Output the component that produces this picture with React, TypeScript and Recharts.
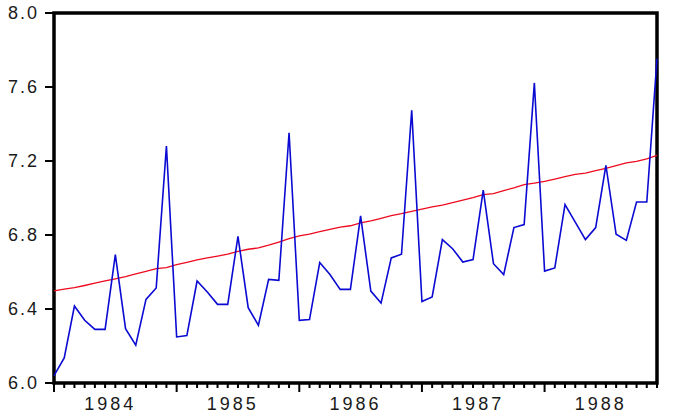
import React from 'react';
import { LineChart, Line, XAxis, YAxis, ReferenceArea } from 'recharts';

// monthly observations, 1984M01 - 1988M12
const years = ['1984', '1985', '1986', '1987', '1988'];

const actual = [
  6.04, 6.135, 6.416, 6.339, 6.29, 6.29, 6.694, 6.294, 6.204, 6.452, 6.514, 7.281,
  6.249, 6.256, 6.551, 6.492, 6.425, 6.425, 6.793, 6.407, 6.312, 6.56, 6.555, 7.353,
  6.339, 6.343, 6.651, 6.586, 6.506, 6.506, 6.903, 6.497, 6.432, 6.676, 6.696, 7.474,
  6.44, 6.465, 6.775, 6.726, 6.654, 6.667, 7.042, 6.645, 6.586, 6.84, 6.856, 7.622,
  6.605, 6.622, 6.964, 6.87, 6.775, 6.84, 7.177, 6.804, 6.771, 6.978, 6.978, 7.753,
];

const trend = [
  6.498, 6.507, 6.515, 6.527, 6.54, 6.552, 6.563, 6.575, 6.59, 6.604, 6.618, 6.624,
  6.64, 6.652, 6.665, 6.676, 6.686, 6.696, 6.712, 6.723, 6.73, 6.745, 6.762, 6.78,
  6.795, 6.805, 6.818, 6.83, 6.842, 6.85, 6.866, 6.876, 6.89, 6.905, 6.915, 6.928,
  6.94, 6.952, 6.962, 6.975, 6.988, 7.002, 7.018, 7.024, 7.04, 7.055, 7.072, 7.08,
  7.09, 7.102, 7.115, 7.128, 7.135, 7.148, 7.16, 7.175, 7.19, 7.198, 7.212, 7.23,
];

const yTicks = [6.0, 6.4, 6.8, 7.2, 7.6, 8.0];

const data = actual.map((v, i) => ({ t: i, actual: v, trend: trend[i] }));
const monthTicks = actual.map((_, i) => i);
const labelTicks = years.map((_, k) => 12 * k + 5.5);

const font = "Arial, 'Liberation Sans', sans-serif";

const XTick = (props: any) => {
  const { x, y, payload } = props;
  const v = payload.value;
  if (Number.isInteger(v)) {
    const major = v % 12 === 0;
    return <line x1={x} x2={x} y1={y} y2={y + (major ? 9 : 5)} stroke="#000" strokeWidth={2} />;
  }
  return (
    <text x={x} y={y + 27} textAnchor="middle" fontSize={18} letterSpacing={3} fill="#1a1a1a" fontFamily={font}>
      {years[Math.floor(v / 12)]}
    </text>
  );
};

export default function App() {
  return (
    <div style={{ position: 'absolute', left: 0, top: 0, background: '#fff' }}>
      <LineChart width={694} height={418} data={data} margin={{ top: 13, right: 37, bottom: 0, left: 0 }}>
        <XAxis
          dataKey="t"
          type="number"
          domain={[0, 59]}
          ticks={[...monthTicks, ...labelTicks]}
          interval={0}
          tick={<XTick />}
          tickLine={false}
          axisLine={false}
          tickSize={0}
          tickMargin={0}
          height={35}
        />
        <YAxis
          type="number"
          domain={[6, 8]}
          ticks={yTicks}
          interval={0}
          width={54}
          tickSize={9}
          tickMargin={6}
          axisLine={false}
          tickLine={{ stroke: '#000', strokeWidth: 2 }}
          tickFormatter={(v: number) => v.toFixed(1)}
          tick={{ fontSize: 18, fill: '#1a1a1a', fontFamily: font, letterSpacing: 2 }}
        />
        <ReferenceArea x1={0} x2={59} y1={6} y2={8} fill="none" stroke="#000" strokeWidth={3.5} ifOverflow="visible" />
        <Line type="linear" dataKey="trend" stroke="#ee0a1e" strokeWidth={1.3} dot={false} isAnimationActive={false} />
        <Line type="linear" dataKey="actual" stroke="#0a0ad2" strokeWidth={1.6} dot={false} isAnimationActive={false} />
      </LineChart>
    </div>
  );
}
